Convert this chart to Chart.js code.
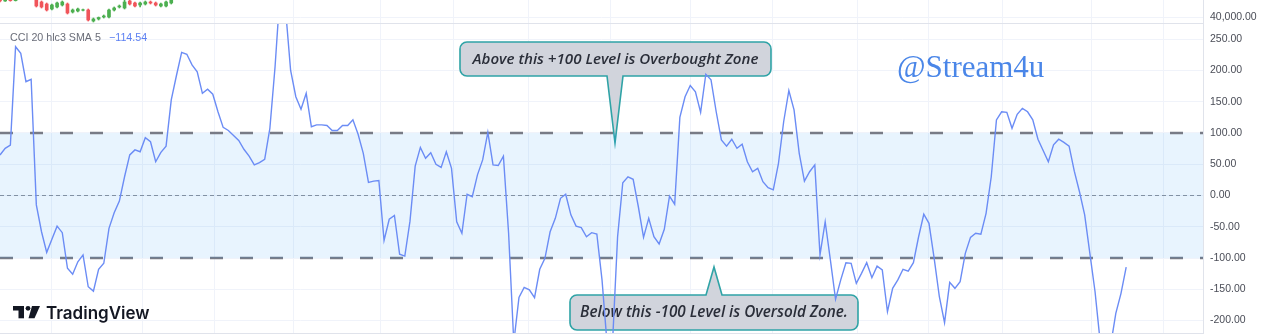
<!DOCTYPE html>
<html>
<head>
<meta charset="utf-8">
<script src="https://cdn.jsdelivr.net/npm/chart.js@4.4.1/dist/chart.umd.min.js"></script>
<style>
  html, body { margin: 0; padding: 0; background: #fff; }
  #wrap { position: relative; width: 1262px; height: 335px; overflow: hidden; }
  #priceChart { position: absolute; left: 0; top: 0; }
  #cciChart { position: absolute; left: 0; top: 24px; }
</style>
</head>
<body>
<div id="wrap">
  <canvas id="priceChart" width="1262" height="24"></canvas>
  <canvas id="cciChart" width="1262" height="311"></canvas>
</div>
<script>
// CCI 20 hlc3 values, one per bar
const cciValues = [
    64.8, 75.5, 80.8, 238, 227.5, 182, 186, -15, -58, -91,
    -70, -49, -59.5, -116.5, -126, -106, -95, -146, -153, -118,
    -108.5, -52.5, -27.5, -9, 30, 65, 73, 70, 92.5, 86,
    54, 69, 79, 153, 192, 229, 226, 209, 198, 163.5,
    170, 162, 134, 109, 104, 96, 88, 74, 63, 49,
    52.5, 58, 107.5, 206, 330, 300, 200, 158, 138, 163.5,
    110, 113, 113, 112, 104, 104, 112, 112, 121, 98,
    67.5, 21, 23, 24, -72, -38, -32, -94, -97, -41,
    47, 77, 59.5, 68.5, 50, 45, 70, 43.5, -42, -60.5,
    2, -2, 33, 57, 101, 49, 48, 63, -60.5, -235,
    -163, -147, -151, -163.5, -118, -100.5, -58, -36.5, -4.5, 2,
    -31, -49, -51.5, -66, -59.5, -61.6, -135, -240, -240, -66,
    20.5, 30, 26, -18, -67, -36.5, -66, -77.6, -54, -1,
    -14, 125, 158, 176, 166, 133, 194, 185, 134, 89,
    79, 90, 75.5, 82, 54, 38, 43.5, 22, 12.5, 9,
    51.5, 118, 168, 137, 67.5, 23, 38, 49, -95, -42,
    -103, -166, -135, -107.5, -108.5, -140.5, -124.5, -107.5, -131.5, -113,
    -119, -186, -148.5, -135, -118, -121, -107.5, -66, -30, -44.5,
    -100.5, -162, -203.5, -139, -148.5, -138, -92.5, -67, -60.5, -62,
    -28.5, 30, 121, 134, 133, 107.5, 130, 139.5, 134, 121,
    90, 72, 54, 81, 90, 85, 79, 39, 6, -31,
    -92.5, -154, -235, -250, -240, -188.5, -156.5, -114.54
];
const upperLevel = 100;
const middleLevel = 0;
const lowerLevel = -100;
const cciTicks = [-200, -150, -100, -50, 0, 50, 100, 150, 200, 250];

// price pane (only the first candles of the window are visible)
const candleOpen  = [41000, 40800, 40950, 40820, 40950, 41200, 41400, 40850, 40750, 40650,
                     40400, 40500, 40600, 40650, 40250, 40300, 40340, 40350, 39800, 39900,
                     40000, 40000, 40350, 40500, 40450, 40800, 40700, 40600, 40650, 40750,
                     40700, 40550, 40550, 40700];
const candleClose = [40800, 40950, 40820, 40900, 41200, 41400, 41000, 40550, 40500, 40350,
                     40600, 40700, 40750, 40200, 40350, 40400, 40360, 39850, 39900, 39975,
                     40050, 40350, 40450, 40550, 40750, 40650, 40550, 40700, 40750, 40700,
                     40600, 40650, 40750, 40850];
const candleHigh  = [41100, 41050, 41000, 41000, 41300, 41500, 41500, 40950, 40800, 40700,
                     40650, 40750, 40800, 40700, 40400, 40450, 40400, 40400, 39950, 40000,
                     40100, 40400, 40500, 40600, 40850, 40850, 40750, 40750, 40800, 40800,
                     40750, 40700, 40800, 40950];
const candleLow   = [40750, 40780, 40790, 40800, 40900, 41150, 40950, 40500, 40450, 40300,
                     40350, 40450, 40550, 40150, 40200, 40250, 40300, 39800, 39750, 39850,
                     39950, 39950, 40300, 40450, 40400, 40600, 40500, 40500, 40600, 40650,
                     40550, 40500, 40500, 40650];
const priceTicks = [40000, 40800];

// time grid positions (bar index)
const timeGridAt = [10, 27.4, 41.4, 56.5, 73.4, 87.3, 101.8, 117.6, 133, 148.8, 165.2, 179, 193.1, 210.3, 224.1];
const xMin = 0;
const xMax = 231.8;

const gridColor = '#f0f3fa';
const paneBorder = '#e0e3eb';
const axisWidth = 59;

function xAxis() {
    return {
        type: 'linear',
        min: xMin,
        max: xMax,
        offset: false,
        ticks: { display: false },
        grid: { color: gridColor, drawTicks: false, offset: false },
        border: { display: true, color: paneBorder },
        afterBuildTicks: (scale) => { scale.ticks = timeGridAt.map(v => ({ value: v })); }
    };
}

// right price scale, no extra label padding so the pane uses its full height
function fitRightAxis(scale) {
    scale.width = axisWidth;
    scale.paddingTop = 0;
    scale.paddingBottom = 0;
}

// ---------- price pane ----------
const candleColors = candleOpen.map((o, i) => candleClose[i] >= o ? '#4caf50' : '#f0545a');
const ctxPrice = document.getElementById('priceChart').getContext('2d');
const priceChart = new Chart(ctxPrice, {
    type: 'bar',
    data: {
        datasets: [
            {
                data: candleOpen.map((o, i) => ({ x: i, y: [o, candleClose[i]] })),
                backgroundColor: candleColors,
                barThickness: 3,
                grouped: false
            },
            {
                data: candleOpen.map((o, i) => ({ x: i, y: [candleLow[i], candleHigh[i]] })),
                backgroundColor: candleColors,
                barThickness: 1,
                grouped: false
            }
        ]
    },
    options: {
        responsive: false,
        animation: false,
        devicePixelRatio: 1,
        layout: { padding: { top: 0, bottom: 1, left: 0, right: 0 } },
        plugins: { legend: { display: false }, tooltip: { enabled: false } },
        scales: {
            x: xAxis(),
            y: {
                position: 'right',
                min: 39700,
                max: 40850,
                grid: { color: gridColor, drawTicks: false },
                border: { display: true, color: paneBorder },
                ticks: {
                    padding: 7,
                    color: '#4a4d57',
                    font: { family: 'Liberation Sans', size: 10.5 },
                    callback: (v) => v === 40000 ? '40,000.00' : ''
                },
                afterBuildTicks: (scale) => { scale.ticks = priceTicks.map(v => ({ value: v })); },
                afterFit: fitRightAxis
            }
        }
    }
});

// ---------- CCI pane ----------
function fitFont(ctx, text, width, style, family) {
    ctx.font = style + ' 13px ' + family;
    const size = 13 * width / ctx.measureText(text).width;
    ctx.font = style + ' ' + size.toFixed(2) + 'px ' + family;
}

function drawCallout(ctx, box, tip, base, text, textWidth) {
    const r = 7;
    ctx.save();
    ctx.beginPath();
    ctx.moveTo(box.x1 + r, box.y1);
    if (base.side === 'top') {
        ctx.lineTo(base.x1, box.y1);
        ctx.lineTo(tip.x, tip.y);
        ctx.lineTo(base.x2, box.y1);
    }
    ctx.lineTo(box.x2 - r, box.y1);
    ctx.arcTo(box.x2, box.y1, box.x2, box.y1 + r, r);
    ctx.lineTo(box.x2, box.y2 - r);
    ctx.arcTo(box.x2, box.y2, box.x2 - r, box.y2, r);
    if (base.side === 'bottom') {
        ctx.lineTo(base.x2, box.y2);
        ctx.lineTo(tip.x, tip.y);
        ctx.lineTo(base.x1, box.y2);
    }
    ctx.lineTo(box.x1 + r, box.y2);
    ctx.arcTo(box.x1, box.y2, box.x1, box.y2 - r, r);
    ctx.lineTo(box.x1, box.y1 + r);
    ctx.arcTo(box.x1, box.y1, box.x1 + r, box.y1, r);
    ctx.closePath();
    ctx.fillStyle = '#d1d4dc';
    ctx.strokeStyle = '#2fa3a6';
    ctx.lineWidth = 1.6;
    ctx.fill();
    ctx.stroke();
    ctx.fillStyle = '#2a2e39';
    fitFont(ctx, text, textWidth, 'italic 600', '"Open Sans"');
    ctx.textAlign = 'center';
    ctx.textBaseline = 'middle';
    ctx.fillText(text, (box.x1 + box.x2) / 2, (box.y1 + box.y2) / 2 + 0.5);
    ctx.restore();
}

const backdropPlugin = {
    id: 'backdrop',
    beforeDatasetsDraw(chart) {
        const ctx = chart.ctx;
        ctx.save();
        ctx.translate(0, -24);
        ctx.fillStyle = '#4a86e8';
        ctx.font = '31px "Liberation Serif"';
        ctx.textBaseline = 'alphabetic';
        ctx.fillText('@Stream4u', 897, 77);
        drawCallout(ctx, { x1: 460, y1: 42, x2: 771, y2: 76 }, { x: 615, y: 143 },
            { side: 'bottom', x1: 607, x2: 623 }, 'Above this +100 Level is Overbought Zone', 286);
        drawCallout(ctx, { x1: 570, y1: 295, x2: 858, y2: 330 }, { x: 714, y: 267 },
            { side: 'top', x1: 706, x2: 722 }, 'Below this -100 Level is Oversold Zone.', 268);
        ctx.restore();
    },
    afterDraw(chart) {
        const ctx = chart.ctx;
        ctx.save();
        ctx.translate(0, -24);
        // indicator legend
        ctx.textBaseline = 'middle';
        const title = 'CCI 20 hlc3 SMA 5';
        fitFont(ctx, title, 91, '', '"Liberation Sans"');
        ctx.fillStyle = '#6a6d78';
        ctx.fillText(title, 10, 38);
        ctx.fillStyle = '#5b7ff2';
        ctx.fillText('\u2212' + Math.abs(cciValues[cciValues.length - 1]).toFixed(2), 109, 38);
        // TradingView mark
        ctx.fillStyle = '#131722';
        ctx.fillRect(13, 306, 11, 4.5);
        ctx.fillRect(18.5, 306, 5.5, 12.3);
        ctx.beginPath();
        ctx.arc(28, 308.3, 2.4, 0, Math.PI * 2);
        ctx.fill();
        ctx.beginPath();
        ctx.moveTo(32, 306);
        ctx.lineTo(40, 306);
        ctx.lineTo(34.5, 318.3);
        ctx.lineTo(28.5, 318.3);
        ctx.closePath();
        ctx.fill();
        ctx.font = '600 17px Inter';
        ctx.textBaseline = 'alphabetic';
        ctx.fillText('TradingView', 46, 318.5);
        ctx.restore();
    }
};

function levelLine(value) {
    return [{ x: xMin, y: value }, { x: xMax, y: value }];
}

const ctxCci = document.getElementById('cciChart').getContext('2d');
const cciChart = new Chart(ctxCci, {
    type: 'line',
    data: {
        datasets: [
            {
                label: 'CCI',
                data: cciValues.map((v, i) => ({ x: i, y: v })),
                borderColor: '#6b8cf5',
                borderWidth: 1.4,
                pointRadius: 0,
                tension: 0,
                fill: false
            },
            {
                label: 'Upper Band',
                data: levelLine(upperLevel),
                borderColor: '#787b86',
                borderWidth: 2.6,
                borderDash: [13, 17],
                pointRadius: 0,
                backgroundColor: 'rgba(33, 150, 243, 0.1)',
                fill: { value: lowerLevel }
            },
            {
                label: 'Middle Band',
                data: levelLine(middleLevel),
                borderColor: '#8e919a',
                borderWidth: 1,
                borderDash: [4, 3],
                pointRadius: 0,
                fill: false
            },
            {
                label: 'Lower Band',
                data: levelLine(lowerLevel),
                borderColor: '#787b86',
                borderWidth: 2.6,
                borderDash: [13, 17],
                pointRadius: 0,
                fill: false
            }
        ]
    },
    options: {
        responsive: false,
        animation: false,
        devicePixelRatio: 1,
        layout: { padding: { top: 0, bottom: 2, left: 0, right: 0 } },
        plugins: { legend: { display: false }, tooltip: { enabled: false } },
        scales: {
            x: xAxis(),
            y: {
                position: 'right',
                min: -220,
                max: 274.4,
                grid: { color: gridColor, drawTicks: false },
                border: { display: true, color: paneBorder },
                ticks: {
                    padding: 7,
                    color: '#4a4d57',
                    font: { family: 'Liberation Sans', size: 10.5 },
                    callback: (v) => v.toFixed(2)
                },
                afterBuildTicks: (scale) => { scale.ticks = cciTicks.map(v => ({ value: v })); },
                afterFit: fitRightAxis
            }
        }
    },
    plugins: [backdropPlugin]
});
</script>
</body>
</html>
